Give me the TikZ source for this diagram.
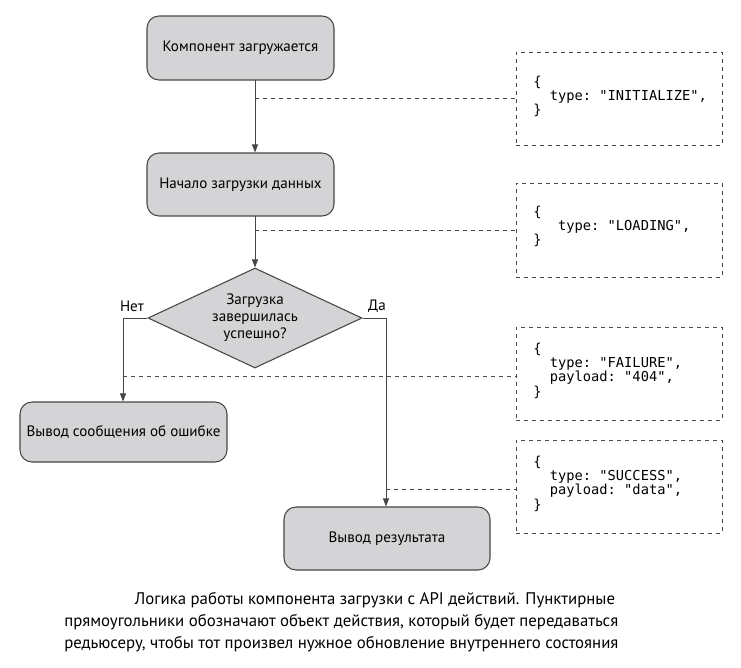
\documentclass[tikz,border=0pt]{standalone}
\usepackage{fontspec}
\setmainfont{PT Sans}
\setmonofont{DejaVu Sans Mono}
\usetikzlibrary{shapes.geometric,arrows.meta}
\definecolor{boxfill}{RGB}{212,212,214}
\definecolor{edge}{RGB}{70,70,70}
\begin{document}
\begin{tikzpicture}[x=0.75pt,y=-0.75pt,
  proc/.style={draw=edge,line width=0.8pt,fill=boxfill,rounded corners=9pt,inner sep=0pt,
    font=\fontsize{11.3}{12}\selectfont},
  act/.style={draw=edge,dashed,line width=0.6pt,inner sep=0pt,minimum width=206*0.75pt},
  code/.style={font=\fontsize{10.3}{10.6}\ttfamily,align=left,anchor=north west,inner sep=0pt},
  conn/.style={draw=edge,line width=0.7pt},
  arr/.style={conn,-{Triangle[length=6pt,width=4.5pt]}},
  dconn/.style={draw=edge,dashed,line width=0.6pt},
  lbl/.style={font=\fontsize{11.3}{12}\selectfont,inner sep=0pt}]
\useasboundingbox (0,0) rectangle (741,667);

% process boxes
\node[proc,minimum width=187*0.75pt,minimum height=64*0.75pt] (b1) at (240.5,48) {Компонент загружается};
\node[proc,minimum width=187*0.75pt,minimum height=63*0.75pt] (b2) at (240.5,184.5) {Начало загрузки данных};
\node[draw=edge,line width=0.8pt,fill=boxfill,diamond,aspect=2.14,inner sep=0pt,minimum width=214*0.75pt,minimum height=100*0.75pt,
  align=center,font=\fontsize{11.3}{12.8}\selectfont] (d) at (255,318) {Загрузка\\завершилась\\успешно?};
\node[proc,minimum width=207*0.75pt,minimum height=60*0.75pt] (b3) at (123.5,432) {Вывод сообщения об ошибке};
\node[proc,minimum width=206*0.75pt,minimum height=63*0.75pt] (b4) at (387,538.5) {Вывод результата};

% labels
\node[lbl] (no) at (132,306) {Нет};
\node[lbl] (yes) at (377,306) {Да};

% coordinates on flow lines
\coordinate (t1) at (255,80);
\coordinate (t2) at (255,216);
\coordinate (j1) at (255,98);
\coordinate (j2) at (255,230);
\coordinate (lc) at (123,318);
\coordinate (rc) at (386,318);
\coordinate (j3) at (123,376);
\coordinate (j4) at (386,489);

% action boxes
\node[act,minimum height=93*0.75pt] (a1) at (619,98.5) {};
\node[act,minimum height=94*0.75pt] (a2) at (619,230) {};
\node[act,minimum height=93*0.75pt] (a3) at (619,373.5) {};
\node[act,minimum height=93*0.75pt] (a4) at (619,486.5) {};

\node[code] (c1) at (533,76) {\{\\\ \ type: "INITIALIZE",\\\}};
\node[code] (c2) at (533,206) {\{\\\ \ \ type: "LOADING",\\\}};
\node[code] (c3) at (533,343) {\{\\\ \ type: "FAILURE",\\\ \ payload: "404",\\\}};
\node[code] (c4) at (533,456) {\{\\\ \ type: "SUCCESS",\\\ \ payload: "data",\\\}};

% flow
\draw[arr] (t1) -- (t2 |- b2.north);
\draw[arr] (t2) -- (d.north);
\draw[arr] (d.west) -- (lc) -- (b3.north -| lc);
\draw[arr] (d.east) -- (rc) -- (b4.north -| rc);

% dashed connectors
\draw[dconn] (j1) -- (j1 -| a1.west);
\draw[dconn] (j2) -- (j2 -| a2.west);
\draw[dconn] (j3) -- (j3 -| a3.west);
\draw[dconn] (j4) -- (j4 -| a4.west);

% caption
\node[anchor=north west,align=left,inner sep=0pt,font=\fontsize{12.6}{16.4}\selectfont] (cap) at (64,592)
{\hspace*{53pt}Логика работы компонента загрузки с API действий. Пунктирные\\
прямоугольники обозначают объект действия, который будет передаваться\\
редьюсеру, чтобы тот произвел нужное обновление внутреннего состояния};
\end{tikzpicture}
\end{document}
